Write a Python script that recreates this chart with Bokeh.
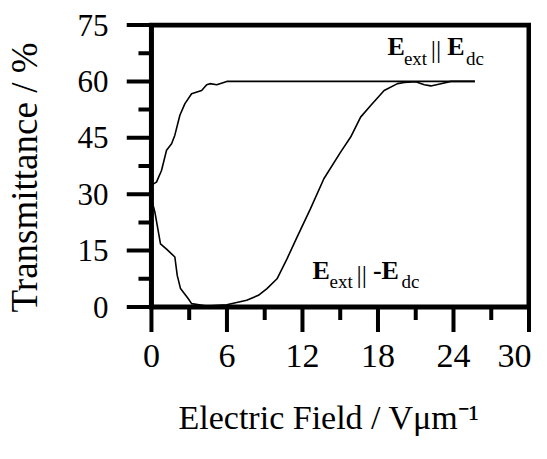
from bokeh.plotting import figure
from bokeh.models import Range1d, FixedTicker
from bokeh.core.properties import value
from bokeh.embed import file_html
from bokeh.resources import INLINE

# ---- data ----
x_ticks = [0, 6, 12, 18, 24, 30]
x_minor = [3, 9, 15, 21, 27]
y_ticks = [0, 15, 30, 45, 60, 75]
y_minor = [7.5, 22.5, 37.5, 52.5, 67.5]

# E_ext || E_dc
x_par = [0, 0.4, 0.8, 1.2, 1.6, 1.86, 2.26, 2.66, 3.19, 3.99, 4.39, 4.65, 5.19, 5.99, 25.7]
y_par = [32.4, 33.2, 36.3, 41.7, 43.4, 45.7, 51.0, 54.1, 56.7, 57.6, 59.1, 59.4, 59.1, 60.0, 60.0]

# E_ext || -E_dc
x_anti = [0, 0.27, 0.72, 1.2, 1.86, 2.05, 2.31, 2.93, 3.19, 4.39, 5.98, 7.57, 8.5, 9.18, 9.98,
          10.77, 11.57, 12.63, 13.7, 15.03, 15.83, 16.62, 17.42, 18.49, 19.55, 20.1, 21.0,
          21.68, 22.2, 23.0, 23.8, 25.7]
y_anti = [28.8, 25.3, 16.8, 15.4, 13.3, 8.4, 4.9, 2.2, 0.9, 0.27, 0.6, 1.78, 3.1, 4.9, 7.5,
          12.8, 18.6, 26.1, 34.1, 41.2, 45.2, 50.5, 53.6, 57.6, 59.4, 59.7, 59.9,
          59.1, 58.8, 59.4, 60.0, 60.0]

FONT = "Liberation Serif"

# plot geometry (pixels): box 378.5 x 282 px, ticks drawn outward
PX_X = 378.5 / 30.0
PX_Y = 282.0 / 75.0
TICK = 25
MINOR = 13
x_lo = -TICK / PX_X
x_hi = 30 + 2.5 / PX_X
y_lo = -25.5 / PX_Y
y_hi = 75 + 2.5 / PX_Y

p = figure(width=531, height=443, x_range=Range1d(x_lo, x_hi), y_range=Range1d(y_lo, y_hi),
           output_backend="svg", toolbar_location=None,
           min_border_left=125, min_border_right=0, min_border_top=22, min_border_bottom=111)
p.xgrid.visible = False
p.ygrid.visible = False
p.outline_line_color = None

# box
p.quad(left=[x_ticks[0]], right=[x_ticks[-1]], bottom=[y_ticks[0]], top=[y_ticks[-1]],
       fill_color=None, line_color="black", line_width=5, line_join="miter")

# ticks (outward), lengths converted from pixels to data units
y0 = y_ticks[0]
x0 = x_ticks[0]
p.segment(x0=x_ticks, y0=[y0] * len(x_ticks), x1=x_ticks, y1=[y0 - TICK / PX_Y] * len(x_ticks),
          line_color="black", line_width=4)
p.segment(x0=x_minor, y0=[y0] * len(x_minor), x1=x_minor, y1=[y0 - MINOR / PX_Y] * len(x_minor),
          line_color="black", line_width=4)
p.segment(x0=[x0] * len(y_ticks), y0=y_ticks, x1=[x0 - TICK / PX_X] * len(y_ticks), y1=y_ticks,
          line_color="black", line_width=4)
p.segment(x0=[x0] * len(y_minor), y0=y_minor, x1=[x0 - MINOR / PX_X] * len(y_minor), y1=y_minor,
          line_color="black", line_width=4)

p.line(x_par, y_par, line_color="black", line_width=1.6)
p.line(x_anti, y_anti, line_color="black", line_width=1.6)

p.xaxis.ticker = FixedTicker(ticks=x_ticks, minor_ticks=x_minor)
p.yaxis.ticker = FixedTicker(ticks=y_ticks, minor_ticks=y_minor)

for axs in (p.xaxis, p.yaxis):
    axs.axis_line_color = None
    axs.major_tick_line_color = None
    axs.minor_tick_line_color = None
    axs.major_tick_out = 0
    axs.minor_tick_out = 0
    axs.major_tick_in = 0
    axs.minor_tick_in = 0
    axs.major_label_text_font = FONT
    axs.axis_label_text_font = FONT
    axs.axis_label_text_font_style = "normal"
    axs.major_label_text_color = "black"
    axs.axis_label_text_color = "black"

p.xaxis.axis_label_text_font_size = "34px"
p.yaxis.axis_label_text_font_size = "37px"
p.xaxis.major_label_text_font_size = "34px"
p.yaxis.major_label_text_font_size = "31px"
p.xaxis.major_label_standoff = 12
p.yaxis.major_label_standoff = 18
p.xaxis.axis_label = "Electric Field / V\u03bcm\u207b\u00b9"
p.yaxis.axis_label = "Transmittance / %"
p.xaxis.axis_label_standoff = 29
p.yaxis.axis_label_standoff = 30

def lab(x, y, t, size, bold=False):
    p.text(x=[x], y=[y], text=[t], text_font=value(FONT), text_font_size=size,
           text_font_style="bold" if bold else "normal",
           text_color="black", text_baseline="bottom", text_align="left")

# E_ext || E_dc
lab(18.75, 65.5, "E", "26px", True)
lab(20.06, 63.2, "ext", "19px")
lab(22.2, 64.5, "||", "26px")
lab(23.5, 65.5, "E", "26px", True)
lab(25.0, 63.2, "dc", "19px")

# E_ext || -E_dc
lab(12.8, 5.9, "E", "26px", True)
lab(14.15, 3.9, "ext", "19px")
lab(16.3, 4.9, "||", "26px")
lab(17.6, 5.9, "-E", "26px", True)
lab(19.87, 3.9, "dc", "19px")

open("out.html", "w").write(file_html(p, INLINE))
